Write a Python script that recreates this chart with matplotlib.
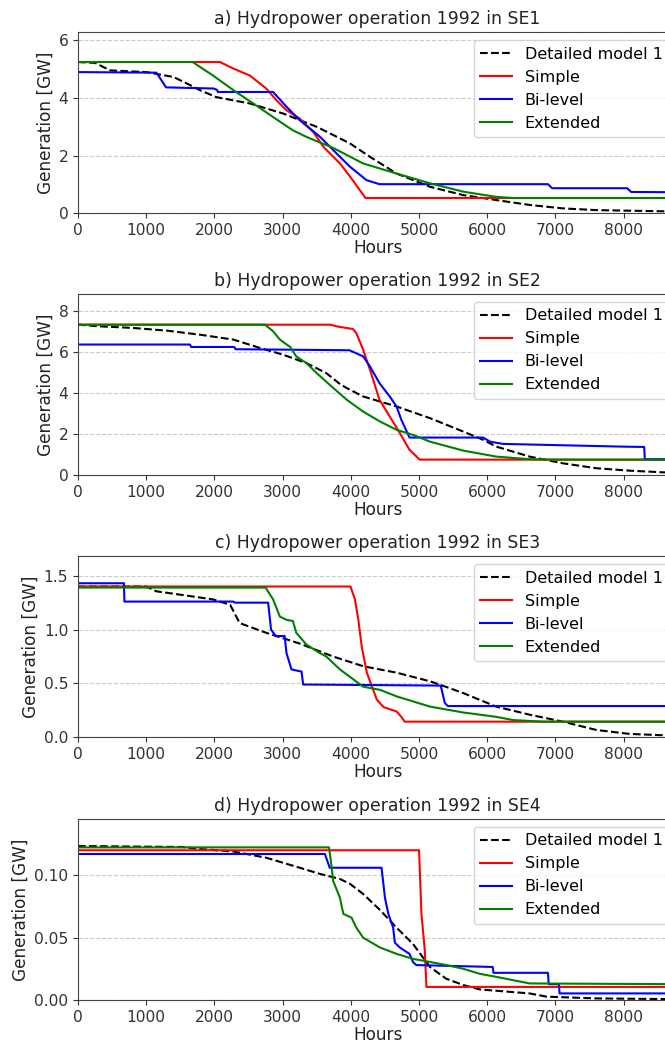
import matplotlib
matplotlib.use('Agg')
import matplotlib.pyplot as plt

# --- SE1 ---
se1_det_h = [0, 250, 470, 1000, 1400, 1600, 1790, 2030, 2520, 3010, 3500, 3840, 3990, 4280, 4670, 5160, 5650, 6130, 6620, 7110, 7600, 8090, 8580, 8784]
se1_det = [5.25, 5.22, 4.96, 4.90, 4.73, 4.50, 4.27, 4.03, 3.81, 3.46, 3.00, 2.60, 2.42, 1.96, 1.38, 0.92, 0.63, 0.46, 0.29, 0.17, 0.11, 0.09, 0.07, 0.06]
se1_sim_h = [0, 2080, 2280, 2520, 2760, 2910, 3060, 3250, 3450, 3600, 3840, 3990, 4215, 8784]
se1_sim = [5.25, 5.25, 5.02, 4.78, 4.33, 3.92, 3.57, 3.29, 2.82, 2.30, 1.73, 1.27, 0.53, 0.53]
se1_bil_h = [0, 1150, 1200, 1290, 1990, 2040, 2050, 2860, 3060, 3250, 3550, 3840, 3990, 4230, 4420, 6890, 6950, 8050, 8110, 8784]
se1_bil = [4.90, 4.88, 4.70, 4.37, 4.33, 4.28, 4.21, 4.21, 3.69, 3.23, 2.65, 1.96, 1.61, 1.15, 1.01, 1.01, 0.87, 0.87, 0.74, 0.73]
se1_ext_h = [0, 1680, 1980, 2280, 2570, 2860, 3150, 3350, 3740, 4180, 4670, 5160, 5650, 6130, 6380, 8784]
se1_ext = [5.25, 5.25, 4.78, 4.27, 3.81, 3.34, 2.88, 2.65, 2.27, 1.73, 1.38, 1.04, 0.75, 0.57, 0.53, 0.53]

# --- SE2 ---
se2_det_h = [0, 320, 810, 1300, 1790, 2280, 2670, 3010, 3350, 3640, 3840, 3940, 4180, 4670, 5160, 5650, 5940, 6130, 6620, 7110, 7600, 8090, 8580, 8784]
se2_det = [7.35, 7.27, 7.19, 7.06, 6.86, 6.62, 6.21, 5.88, 5.47, 4.98, 4.45, 4.25, 3.84, 3.35, 2.78, 2.12, 1.72, 1.39, 0.90, 0.57, 0.33, 0.21, 0.13, 0.11]
se2_sim_h = [0, 3700, 3790, 4030, 4080, 4180, 4280, 4420, 4570, 4720, 4860, 5010, 8784]
se2_sim = [7.35, 7.35, 7.27, 7.14, 6.94, 6.13, 5.15, 3.68, 2.86, 2.04, 1.23, 0.75, 0.75]
se2_bil_h = [0, 1640, 1660, 2290, 2310, 3980, 4180, 4280, 4420, 4570, 4670, 4740, 4860, 5940, 6040, 6230, 7940, 8300, 8310, 8784]
se2_bil = [6.38, 6.38, 6.26, 6.26, 6.15, 6.10, 5.80, 5.31, 4.49, 3.84, 3.35, 2.70, 1.83, 1.83, 1.63, 1.52, 1.39, 1.37, 0.77, 0.77]
se2_ext_h = [0, 2740, 2860, 2960, 3110, 3200, 3350, 3500, 3690, 3940, 4180, 4430, 4670, 4910, 5160, 5650, 6130, 6620, 7000, 8784]
se2_ext = [7.35, 7.35, 7.03, 6.62, 6.26, 5.80, 5.47, 4.98, 4.41, 3.68, 3.10, 2.61, 2.21, 1.96, 1.63, 1.19, 0.90, 0.77, 0.75, 0.75]

# --- SE3 ---
se3_det_h = [0, 1000, 1150, 1400, 1980, 2230, 2280, 2370, 2760, 3250, 3740, 4180, 4670, 5160, 5300, 5650, 6130, 6620, 7110, 7600, 8090, 8580, 8784]
se3_det = [1.40, 1.40, 1.355, 1.333, 1.28, 1.23, 1.17, 1.06, 0.97, 0.87, 0.75, 0.66, 0.60, 0.52, 0.49, 0.41, 0.285, 0.21, 0.145, 0.068, 0.031, 0.019, 0.017]
se3_sim_h = [0, 3995, 4060, 4110, 4160, 4235, 4310, 4380, 4480, 4670, 4740, 4790, 8784]
se3_sim = [1.40, 1.40, 1.28, 1.09, 0.84, 0.60, 0.47, 0.35, 0.28, 0.24, 0.19, 0.145, 0.145]
se3_bil_h = [0, 674, 680, 2276, 2300, 2788, 2830, 2900, 3030, 3057, 3130, 3277, 3301, 5318, 5377, 5420, 8784]
se3_bil = [1.43, 1.43, 1.26, 1.26, 1.25, 1.25, 1.00, 0.94, 0.94, 0.78, 0.63, 0.61, 0.49, 0.48, 0.32, 0.29, 0.29]
se3_ext_h = [0, 2750, 2860, 2960, 3060, 3150, 3200, 3350, 3550, 3640, 3740, 3840, 3990, 4180, 4430, 4670, 5160, 5650, 6130, 6380, 6820, 8784]
se3_ext = [1.39, 1.39, 1.28, 1.12, 1.09, 1.08, 0.97, 0.86, 0.78, 0.75, 0.69, 0.63, 0.56, 0.47, 0.44, 0.38, 0.285, 0.23, 0.19, 0.16, 0.145, 0.145]

# --- SE4 ---
se4_det_h = [0, 1540, 1790, 2280, 2760, 3250, 3550, 3840, 3990, 4180, 4430, 4670, 4910, 5160, 5400, 5650, 5890, 6620, 6870, 7600, 8580, 8784]
se4_det = [0.1234, 0.1226, 0.121, 0.119, 0.114, 0.106, 0.101, 0.097, 0.093, 0.085, 0.072, 0.058, 0.045, 0.0265, 0.017, 0.012, 0.0085, 0.0053, 0.0027, 0.0013, 0.0008, 0.0008]
se4_sim_h = [0, 5000, 5035, 5084, 5108, 8784]
se4_sim = [0.120, 0.120, 0.069, 0.040, 0.0105, 0.0105]
se4_bil_h = [0, 3620, 3690, 4450, 4500, 4550, 4620, 4645, 4720, 4860, 4910, 4960, 6080, 6090, 6890, 6900, 7050, 7060, 8784]
se4_bil = [0.117, 0.117, 0.106, 0.106, 0.082, 0.069, 0.058, 0.046, 0.042, 0.037, 0.0305, 0.028, 0.0265, 0.0218, 0.0218, 0.0127, 0.0127, 0.0053, 0.0053]
se4_ext_h = [0, 3680, 3720, 3740, 3840, 3890, 4010, 4080, 4180, 4430, 4670, 4910, 5160, 5400, 5650, 5890, 6130, 6620, 8784]
se4_ext = [0.1223, 0.1223, 0.106, 0.0955, 0.082, 0.069, 0.066, 0.058, 0.050, 0.042, 0.037, 0.033, 0.0305, 0.028, 0.025, 0.021, 0.0186, 0.0133, 0.0127]

areas = ['SE1', 'SE2', 'SE3', 'SE4']
letters = ['a', 'b', 'c', 'd']
y_tops = [6.28, 8.85, 1.68, 0.145]
y_ticks = [[0, 2, 4, 6], [0, 2, 4, 6, 8], [0.0, 0.5, 1.0, 1.5], [0.00, 0.05, 0.10]]
y_fmt = ['{:.0f}', '{:.0f}', '{:.1f}', '{:.2f}']
x_ticks = [0, 1000, 2000, 3000, 4000, 5000, 6000, 7000, 8000]

panels = [
    (se1_det_h, se1_det, se1_sim_h, se1_sim, se1_bil_h, se1_bil, se1_ext_h, se1_ext),
    (se2_det_h, se2_det, se2_sim_h, se2_sim, se2_bil_h, se2_bil, se2_ext_h, se2_ext),
    (se3_det_h, se3_det, se3_sim_h, se3_sim, se3_bil_h, se3_bil, se3_ext_h, se3_ext),
    (se4_det_h, se4_det, se4_sim_h, se4_sim, se4_bil_h, se4_bil, se4_ext_h, se4_ext),
]

fig = plt.figure(figsize=(6.65, 10.43), dpi=100)
bottoms = [0.7955, 0.5446, 0.2931, 0.0412]

for i, p in enumerate(panels):
    ax = fig.add_axes([0.1173, bottoms[i], 0.901, 0.1735])
    dh, d, sh, s, bh, b, eh, e = p
    ax.plot(dh, d, color='black', linestyle='--', linewidth=1.5, label='Detailed model 1')
    ax.plot(sh, s, color='red', linewidth=1.5, label='Simple')
    ax.plot(bh, b, color='blue', linewidth=1.5, label='Bi-level')
    ax.plot(eh, e, color='green', linewidth=1.5, label='Extended')

    ax.set_xlim(0, 8784)
    ax.set_ylim(0, y_tops[i])
    ax.set_xticks(x_ticks)
    ax.set_yticks(y_ticks[i])
    ax.set_yticklabels([y_fmt[i].format(v) for v in y_ticks[i]])
    ax.tick_params(labelsize=11.2, colors='#333333')
    for sp in ax.spines.values():
        sp.set_color('#444444')
    ax.grid(True, axis='y', linestyle='--', color='#cccccc', linewidth=0.8)
    ax.set_axisbelow(True)

    ax.set_title(f'{letters[i]}) Hydropower operation 1992 in {areas[i]}', fontsize=12.4, color='#222222')
    ax.set_xlabel('Hours', fontsize=12.2, color='#222222', labelpad=1)
    ax.set_ylabel('Generation [GW]', fontsize=12.2, color='#222222', labelpad=3)
    ax.legend(loc='upper right', fontsize=11.5)

fig.savefig('out.png', dpi=100)
